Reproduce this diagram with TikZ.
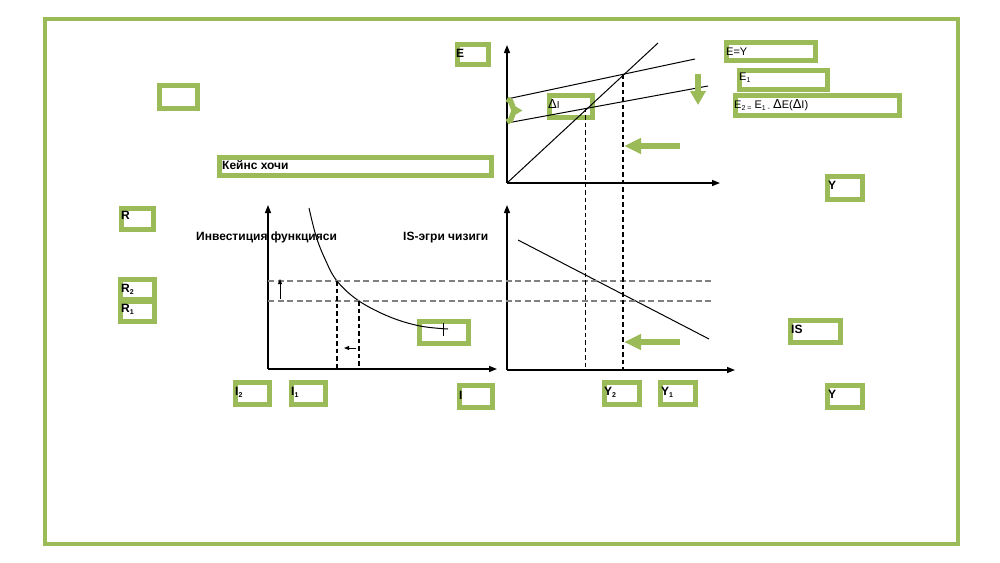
\documentclass[tikz,border=0pt]{standalone}
\usepackage{fontspec}
\setmainfont{Liberation Sans}
\usetikzlibrary{arrows.meta,decorations.pathreplacing}
\definecolor{grn}{HTML}{9BBB59}
\newcommand{\gbx}[5]{\node[gbox, minimum width={#4-#2-5}, minimum height={#5-#3-5}] (#1) at ({(#2+#4)/2},{(#3+#5)/2}) {};}
\newcommand{\sbs}[1]{\raisebox{-0.45ex}{\fontsize{7}{8}\selectfont #1}}
\tikzset{
  gbox/.style={draw=grn, line width=5pt, inner sep=0pt, outer sep=0pt},
  lbl/.style={anchor=base west, inner sep=0pt, font=\fontsize{12}{14}\selectfont\bfseries},
  rlbl/.style={anchor=base west, inner sep=0pt, font=\fontsize{11}{13}\selectfont},
  axis/.style={line width=1.4pt, -{Triangle[length=8pt,width=6pt]}},
  curve/.style={line width=1pt},
  gdash/.style={draw=gray, line width=1.1pt, dash pattern=on 6pt off 3.5pt},
  bdash/.style={line width=1.2pt, dash pattern=on 4.5pt off 3pt},
  garrow/.style={draw=grn, line width=5.5pt, -{Triangle[length=17pt,width=15pt]}},
  smallarrow/.style={line width=1pt, -{Triangle[length=5pt,width=4pt]}}
}
\begin{document}
\begin{tikzpicture}[x=1pt,y=-1pt]
\useasboundingbox (0,0) rectangle (1000,562);
% frame
\node[draw=grn, line width=4.5pt, minimum width=913pt, minimum height=525pt, inner sep=0pt] (frame) at (501.5,281.5) {};
% boxes
\gbx{bE}{455}{42}{491}{67}
\gbx{bL}{157}{83}{200}{111}
\gbx{bK}{217}{155}{494}{178}
\gbx{bR}{119}{206}{156}{232}
\gbx{bRa}{118}{277}{157}{302}
\gbx{bRb}{118}{299}{157}{324}
\gbx{bIa}{233}{380}{272}{407}
\gbx{bIb}{289}{380}{328}{407}
\gbx{bI}{457}{383}{495}{410}
\gbx{bInv}{417}{319}{471}{346}
\gbx{bDI}{547}{93}{595}{120}
\gbx{bEY}{724}{40}{818}{63}
\gbx{bE1}{737}{68}{830}{92}
\gbx{bE2}{733}{93}{902}{118}
\gbx{bYt}{825}{174}{865}{202}
\gbx{bIS}{788}{318}{843}{345}
\gbx{bYb}{825}{383}{865}{410}
\gbx{bY2}{602}{380}{642}{407}
\gbx{bY1}{658}{380}{698}{407}
% labels
\node[lbl] (tE) at (456,57) {E};
\node[lbl] (tK) at (222,169) {Кейнс хочи};
\node[lbl] (tR) at (121,219) {R};
\node[lbl] (tR2) at (121,292) {R\sbs{2}};
\node[lbl] (tR1) at (121,312) {R\sbs{1}};
\node[lbl] (tI2) at (235,395) {I\sbs{2}};
\node[lbl] (tI1) at (291,395) {I\sbs{1}};
\node[lbl] (tI) at (459,399) {I};
\node[lbl] (tY2) at (604,395) {Y\sbs{2}};
\node[lbl] (tY1) at (661,395) {Y\sbs{1}};
\node[lbl] (tYt) at (828,189) {Y};
\node[lbl] (tIS) at (791,333) {IS};
\node[lbl] (tYb) at (828,398) {Y};
\node[lbl] (hInv) at (196,240) {Инвестиция функцияси};
\node[lbl] (hIS) at (403,240) {IS-эгри чизиги};
\node[rlbl] (tEY) at (726,55) {E=Y};
\node[rlbl] (tE1) at (739,80) {E\sbs{1}};
\node[rlbl] (tE2) at (734,108) {E\sbs{2 =} E\sbs{1 -} {\fontsize{13}{14}\selectfont Δ}E({\fontsize{13}{14}\selectfont Δ}I)};
\node[rlbl] (tDI) at (548,108) {{\fontsize{13}{14}\selectfont Δ}{\fontsize{10}{12}\selectfont I}};
% coordinates: top chart
\coordinate (O1) at (507,183);
\coordinate (Ey) at (507,45);
\coordinate (Ex) at (720,183);
\coordinate (L45) at (658,43);
\coordinate (E1a) at (507,99);
\coordinate (E1b) at (695,59);
\coordinate (E2a) at (507,123);
\coordinate (E2b) at (708,86);
\coordinate (P1) at (623,74.5);
\coordinate (P2) at (585.5,107.5);
% bottom right chart
\coordinate (O2) at (507,370);
\coordinate (ISy) at (507,205);
\coordinate (ISx) at (735,370);
\coordinate (ISa) at (518,240);
\coordinate (ISb) at (709,339);
\coordinate (Q1) at (623,370);
\coordinate (Q2) at (585.5,370);
% bottom left chart
\coordinate (O3) at (268,369);
\coordinate (Iy) at (268,205);
\coordinate (Ix) at (497,369);
\coordinate (R2a) at (268,281);
\coordinate (R2b) at (712,281);
\coordinate (R1a) at (268,301);
\coordinate (R1b) at (713,301);
\coordinate (C2) at (337,281);
\coordinate (C1) at (359,301);
\coordinate (C2d) at (337,369);
\coordinate (C1d) at (359,369);
% axes
\draw[axis] (O1) -- (Ey);
\draw[axis] (O1) -- (Ex);
\draw[axis] (O2) -- (ISy);
\draw[axis] (O2) -- (ISx);
\draw[axis] (O3) -- (Iy);
\draw[axis] (O3) -- (Ix);
% lines top
\draw[curve] (O1) -- (L45);
\draw[curve] (E1a) -- (E1b);
\draw[curve] (E2a) -- (E2b);
% IS
\draw[curve] (ISa) -- (ISb);
% investment curve
\draw[curve] plot[smooth, tension=0.6] coordinates {(309,208) (316,236) (325,259) (337,281) (359,301) (390,317) (420,326) (448,329)};
\draw[curve] (443,323) -- (443,336);
% dashed
\draw[gdash] (R2a) -- (R2b);
\draw[gdash] (R1a) -- (R1b);
\draw[bdash] (C2) -- (C2d);
\draw[bdash] (C1) -- (C1d);
\draw[bdash] (P1) -- (Q1);
\draw[bdash] (P2) -- (Q2);
% small arrows
\coordinate (ua) at (280,299);
\coordinate (ub) at (280,279);
\draw[smallarrow] (ua) -- (ub);
\coordinate (la) at (356,348);
\coordinate (lb) at (344,348);
\draw[smallarrow] (la) -- (lb);
% green arrows
\coordinate (g1a) at (680,146);
\coordinate (g1b) at (624,146);
\draw[garrow] (g1a) -- (g1b);
\coordinate (g2a) at (680,342);
\coordinate (g2b) at (624,342);
\draw[garrow] (g2a) -- (g2b);
\coordinate (g3a) at (698,74);
\coordinate (g3b) at (698,105);
\draw[draw=grn, line width=6pt, -{Triangle[length=14pt,width=15pt]}] (g3a) -- (g3b);
% brace
\coordinate (bra) at (507,99);
\coordinate (brb) at (507,122);
\draw[draw=grn, line width=5.5pt, decorate, decoration={brace, amplitude=10pt, aspect=0.5}] (bra) -- (brb);
\end{tikzpicture}
\end{document}
